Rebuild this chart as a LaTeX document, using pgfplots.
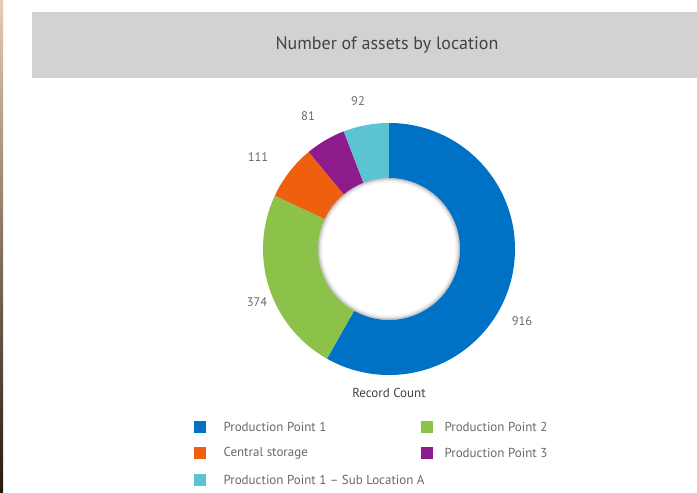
\documentclass[border=0pt]{standalone}
\usepackage{pgfplots}
\pgfplotsset{compat=1.18}
\usepackage{pgfplotstable}
\usepackage{fontspec}
\setmainfont{PT Sans}

\definecolor{ppone}{HTML}{0072C6}
\definecolor{pptwo}{HTML}{8CC24A}
\definecolor{central}{HTML}{EE6010}
\definecolor{ppthree}{HTML}{8E1B8C}
\definecolor{subloc}{HTML}{5BC3D2}
\definecolor{header}{HTML}{D2D2D2}
\definecolor{txt}{HTML}{444444}
\definecolor{lbl}{HTML}{6A6A6A}

% record count per location; lx/ly = label position in pixels (y downwards)
\pgfplotstableread{
value colour lx ly
916 ppone 522 321
374 pptwo 257 302
111 central 258 157
81 ppthree 308 116
92 subloc 358 101
}\assets

\begin{document}
\begin{tikzpicture}
% angles of the ring segments, clockwise from the top
\def\total{0}
\pgfplotsforeachungrouped \i in {0,...,4}{%
  \pgfplotstablegetelem{\i}{value}\of\assets
  \pgfmathsetmacro\total{\total+\pgfplotsretval}}
\def\cur{90}
\pgfplotsforeachungrouped \i in {0,...,4}{%
  \pgfplotstablegetelem{\i}{value}\of\assets
  \expandafter\xdef\csname v\i\endcsname{\pgfplotsretval}%
  \pgfmathsetmacro\nxt{\cur-\pgfplotsretval/\total*360}%
  \expandafter\xdef\csname s\i\endcsname{\cur}%
  \expandafter\xdef\csname e\i\endcsname{\nxt}%
  \let\cur\nxt
  \pgfplotstablegetelem{\i}{colour}\of\assets
  \expandafter\xdef\csname c\i\endcsname{\pgfplotsretval}%
  \pgfplotstablegetelem{\i}{lx}\of\assets
  \expandafter\xdef\csname x\i\endcsname{\pgfplotsretval}%
  \pgfplotstablegetelem{\i}{ly}\of\assets
  \pgfmathsetmacro\tmp{493-\pgfplotsretval}%
  \expandafter\xdef\csname y\i\endcsname{\tmp}}
\begin{axis}[
    x=1pt, y=1pt,
    xmin=0, xmax=697, ymin=0, ymax=493,
    scale only axis,
    hide axis,
    clip=false,
  ]
  \fill[white] (axis cs:0,0) rectangle (axis cs:697,493);
  \shade[top color=brown!40, bottom color=black!80!brown] (axis cs:0,0) rectangle (axis cs:3,493);
  % header band
  \fill[header] (axis cs:32,415) rectangle (axis cs:697,481);
  \node[font=\fontsize{18}{21}\selectfont, text=txt] at (axis cs:387,448) {Number of assets by location};
  % ring
  \pgfplotsinvokeforeach{0,...,4}{
    \fill[\csname c#1\endcsname] (axis cs:389,244) ++(\csname s#1\endcsname:126)
      arc[start angle=\csname s#1\endcsname, end angle=\csname e#1\endcsname, radius=126]
      -- ++(\csname e#1\endcsname+180:55)
      arc[start angle=\csname e#1\endcsname, end angle=\csname s#1\endcsname, radius=71]
      -- cycle;
    \node[font=\fontsize{12.5}{15}\selectfont, text=lbl] at (axis cs:\csname x#1\endcsname,\csname y#1\endcsname) {\csname v#1\endcsname};
  }
  % soft shadow at the hole
  \draw[black, opacity=0.22, line width=1.5pt] (axis cs:389,244) circle[radius=70.2];
  \draw[black, opacity=0.10, line width=1.5pt] (axis cs:389,244) circle[radius=68.7];
  \draw[black, opacity=0.04, line width=1.5pt] (axis cs:389,244) circle[radius=67.2];
  \node[font=\fontsize{13}{15}\selectfont, text=txt] at (axis cs:389,100) {Record Count};
  % legend
  \fill[ppone]   (axis cs:194,60) rectangle (axis cs:206,72);
  \fill[central] (axis cs:194,34) rectangle (axis cs:206,46);
  \fill[subloc]  (axis cs:194,7) rectangle (axis cs:206,19);
  \fill[pptwo]   (axis cs:421,60) rectangle (axis cs:433,72);
  \fill[ppthree] (axis cs:421,34) rectangle (axis cs:433,46);
  \begin{scope}[every node/.style={anchor=west, font=\fontsize{13}{15}\selectfont, text=lbl}]
    \node at (axis cs:220,66) {Production Point 1};
    \node at (axis cs:220,40) {Central storage};
    \node at (axis cs:220,13) {Production Point 1 -- Sub Location A};
    \node at (axis cs:441,66) {Production Point 2};
    \node at (axis cs:441,40) {Production Point 3};
  \end{scope}
\end{axis}
\end{tikzpicture}
\end{document}
